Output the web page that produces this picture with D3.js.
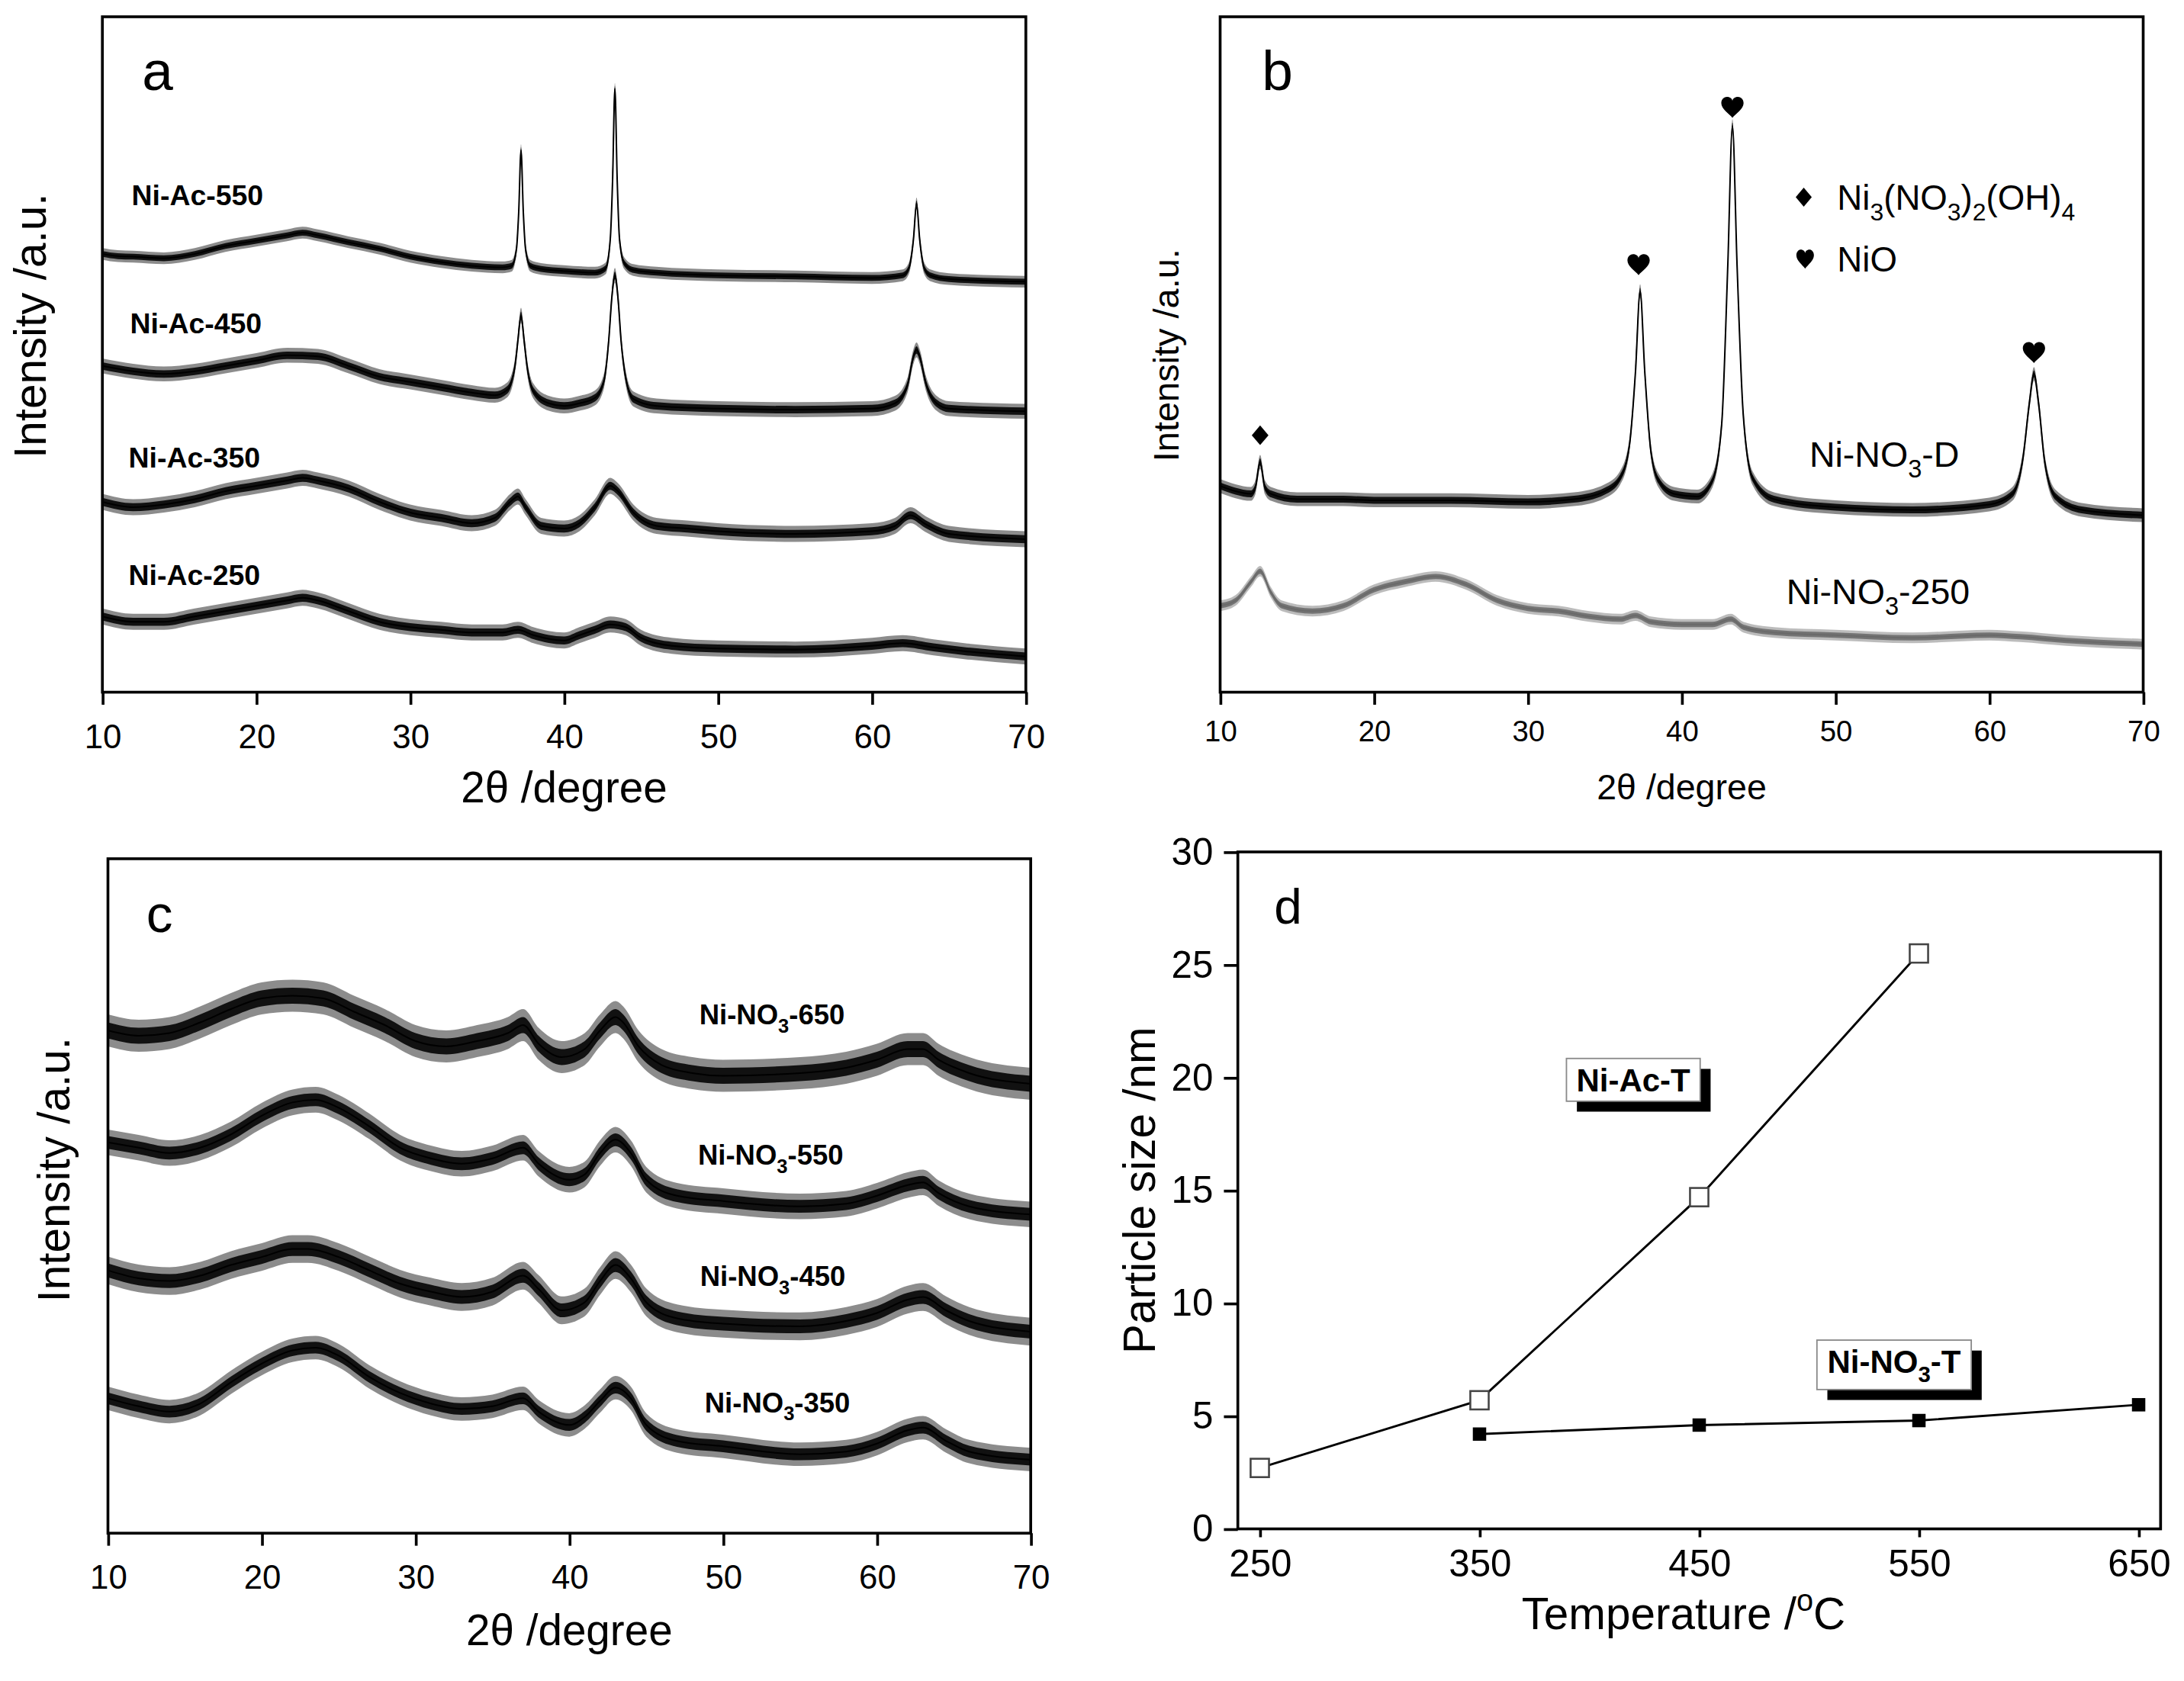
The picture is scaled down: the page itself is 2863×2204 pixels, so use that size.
<!DOCTYPE html>
<html><head><meta charset="utf-8">
<script src="https://cdn.jsdelivr.net/npm/d3@7"></script>
<style>
body{margin:0;background:#fff}
svg{display:block}
text{font-family:"Liberation Sans",Arial,Helvetica,sans-serif;fill:#000}
</style>
</head><body>
<svg id="fig" width="2863" height="2204" viewBox="0 0 1568 1207"></svg>
<script>
// ---------------- DATA ----------------
const xrdTicks = [10, 20, 30, 40, 50, 60, 70];

// Panel a: [2theta, intensity a.u.]
const niAc550 = [[10,822],[11,818],[12,817],[14,814],[16,822],[18,837],[20,847],[22,857],[23,862],[24,857],[26,844],[28,832],[30,817],[32,807],[34,800],[36,797],[36.6,800],[36.9,830],[37.05,900],[37.2,1017],[37.35,900],[37.5,830],[37.8,800],[38.5,794],[40,790],[42,787],[42.7,795],[43.0,850],[43.15,960],[43.3,1132],[43.45,960],[43.6,850],[43.9,805],[44.5,792],[46,787],[50,782],[55,780],[60,777],[62,782],[62.4,795],[62.7,850],[62.9,917],[63.1,850],[63.4,795],[63.8,782],[65,775],[70,770]];
const niAc450 = [[10,612],[12,602],[14,597],[16,602],[18,612],[20,622],[22,632],[24,630],[26,612],[28,592],[30,582],[32,572],[34,562],[35.5,557],[36.3,567],[36.8,610],[37.0,660],[37.2,707],[37.4,660],[37.6,610],[38.0,565],[39,542],[40,537],[41,542],[42,552],[42.6,585],[42.9,660],[43.1,740],[43.3,782],[43.5,740],[43.7,660],[44.0,590],[44.5,550],[46,537],[50,532],[55,530],[60,532],[61.5,542],[62.3,575],[62.7,630],[62.9,642],[63.1,630],[63.5,580],[64.2,542],[65,532],[70,527]];
const niAc350 = [[10,357],[12,347],[14,352],[16,362],[18,377],[20,387],[22,397],[23,402],[24,397],[26,382],[28,357],[30,337],[32,327],[34,317],[35.5,327],[36.5,357],[37,367],[37.5,347],[38.5,312],[40,307],[41,317],[42,347],[43,387],[43.5,377],[44.5,337],[46,312],[48,307],[50,302],[55,297],[60,302],[61.5,312],[62.5,332],[63.5,315],[65,297],[70,287]];
const niAc250 = [[10,142],[12,132],[14,132],[16,142],[18,152],[20,162],[22,172],[23,177],[24,172],[26,152],[28,132],[30,122],[32,117],[34,112],[36,112],[37,117],[38,107],[40,97],[41,107],[42,117],[43,127],[44,122],[45,102],[47,87],[50,82],[55,80],[60,87],[62,92],[64,84],[66,77],[70,67]];
const noiseA = [11, 14, 15, 15];
const labelsA = ["Ni-Ac-550", "Ni-Ac-450", "Ni-Ac-350", "Ni-Ac-250"];
const labelPosA = [[11.9,914],[11.8,673],[11.7,421],[11.7,201]];

// Panel b
const niNO3D = [[10,387],[11,377],[12,372],[12.3,385],[12.6,432],[12.9,385],[13.3,372],[15,362],[18,362],[20,360],[25,360],[30,357],[33,362],[35,377],[36,402],[36.6,462],[37.0,602],[37.3,752],[37.6,602],[38.0,452],[38.5,397],[39.5,372],[41,367],[42,397],[42.6,502],[43.0,802],[43.3,1062],[43.6,802],[44.0,522],[44.6,402],[46,362],[50,347],[55,342],[60,352],[61.5,372],[62.2,442],[62.6,542],[62.9,597],[63.2,542],[63.6,432],[64.3,367],[66,342],[70,332]];
const niNO3_250 = [[10,162],[11,172],[12,207],[12.6,227],[13.3,187],[14,162],[16,152],[18,162],[20,192],[22,207],[24,217],[26,202],[28,172],[30,157],[32,152],[34,142],[36,137],[37,144],[38,132],[40,127],[42,127],[43.2,137],[44,122],[46,112],[50,107],[55,102],[60,107],[62,104],[65,97],[70,90]];
const noiseB = [13, 10];
const labelPosB = [[48.3,423],[46.8,165]];
const diamondPeak = [[12.6, 482]];
const heartPeaks = [[37.2, 802],[43.3, 1097],[62.9, 637]];

// Panel c
const niNO3_650 = [[10,943],[12,933],[14,938],[16,958],[18,983],[20,1003],[22,1008],[24,1003],[26,978],[28,953],[30,923],[32,913],[34,923],[36,938],[37,953],[38,918],[39.5,893],[41,908],[42,943],[43,968],[43.5,958],[44.5,913],[46,878],[48,863],[50,858],[55,863],[58,873],[60,888],[62,908],[63,908],[64,888],[66,863],[70,843]];
const niNO3_550 = [[10,733],[12,723],[14,713],[16,723],[18,748],[20,783],[22,808],[23.5,813],[25,798],[27,763],[29,723],[31,703],[33,693],[35,703],[37,723],[38,693],[40,663],[41,673],[42,713],[43,738],[44,713],[45,663],[47,633],[50,623],[55,613],[58,618],[60,633],[62,653],[63,658],[64,638],[66,613],[70,598]];
const niNO3_450 = [[10,493],[12,478],[14,473],[16,483],[18,503],[20,518],[22,533],[23,533],[25,518],[27,493],[29,468],[31,453],[33,443],[35,453],[37,483],[38,458],[39.5,418],[41,433],[42,473],[43,503],[44,478],[45,433],[47,403],[50,393],[55,388],[58,398],[60,413],[62,438],[63,443],[64.5,418],[66,398],[70,378]];
const niNO3_350 = [[10,253],[12,238],[14,228],[16,243],[18,283],[20,318],[22,343],[23.5,348],[25,333],[27,293],[29,263],[31,243],[33,233],[35,238],[37,253],[38,228],[40,203],[41,218],[42,248],[43,273],[44,253],[45,203],[47,173],[50,163],[55,148],[58,153],[60,168],[62,193],[63,198],[64.5,173],[66,153],[70,138]];
const noiseC = [30, 24, 26, 22];
const labelsC = ["650", "550", "450", "350"];
const labelPosC = [[48.45,954],[48.36,691],[48.5,464],[48.8,227]];

// Panel d
const temps = [250, 350, 450, 550, 650];
const sizeTicks = [0, 5, 10, 15, 20, 25, 30];
const niAcT = [2.7, 5.7, 14.7, 25.5];     // 250..550
const niNO3T = [4.2, 4.6, 4.8, 5.5];      // 350..650
const annoPos = [[420, 19.9], [538.7, 7.27]];

// ---------------- DRAWING ----------------
const svg = d3.select('#fig');

function richText(sel, segs, fs) {
  let shift = 0;
  segs.forEach(s => {
    const ts = sel.append('tspan').text(s.t);
    let target = 0;
    if (s.sub) { target = 0.3 * fs; ts.attr('font-size', fs * 0.7); }
    if (s.sup) { target = -0.42 * fs; ts.attr('font-size', fs * 0.68); }
    if (target !== shift) { ts.attr('dy', target - shift); shift = target; }
  });
}

function xrdPanel(c) {
  const x = d3.scaleLinear().domain([10, 70]).range([c.L, c.R]);
  const y = d3.scaleLinear().domain([0, c.yMax]).range([c.B, c.T]);
  const g = svg.append('g');
  const clipId = 'clip' + c.id;
  g.append('clipPath').attr('id', clipId).append('rect')
    .attr('x', c.L).attr('y', c.T).attr('width', c.R - c.L).attr('height', c.B - c.T);
  const plot = g.append('g').attr('clip-path', `url(#${clipId})`);
  c.series.forEach(s => {
    const band = k => d3.area().curve(d3.curveMonotoneX)
      .x(d => x(d[0])).y0(d => y(d[1] - s.noise * k)).y1(d => y(d[1] + s.noise * k));
    plot.append('path').attr('d', band(1)(s.data)).attr('fill', s.color).attr('fill-opacity', 0.45);
    plot.append('path').attr('d', band(0.5)(s.data)).attr('fill', s.color).attr('fill-opacity', 0.88);
    plot.append('path').attr('d', d3.line().curve(d3.curveMonotoneX).x(d => x(d[0])).y(d => y(d[1]))(s.data))
      .attr('fill', 'none').attr('stroke', s.color).attr('stroke-width', 1.1);
    const t = g.append('text').attr('x', x(s.lx)).attr('y', y(s.ly))
      .attr('font-size', c.labelFs).attr('font-weight', c.labelBold ? 'bold' : 'normal');
    richText(t, s.label, c.labelFs);
  });
  // axis
  const ax = g.append('g').attr('transform', `translate(0,${c.B})`)
    .call(d3.axisBottom(x).tickValues(xrdTicks).tickSize(9).tickPadding(c.tickPad).tickSizeOuter(0));
  ax.select('.domain').remove();
  ax.selectAll('line').attr('stroke-width', 2);
  ax.selectAll('text').attr('font-size', c.tickFs).attr('font-family', '"Liberation Sans",Arial,sans-serif');
  g.append('rect').attr('x', c.L).attr('y', c.T).attr('width', c.R - c.L).attr('height', c.B - c.T)
    .attr('fill', 'none').attr('stroke', '#000').attr('stroke-width', 2);
  const xt = g.append('text').attr('x', (c.L + c.R) / 2).attr('y', c.xTitleY)
    .attr('text-anchor', 'middle').attr('font-size', c.titleFs);
  xt.text('2θ /degree');
  g.append('text').attr('transform', `translate(${c.yTitle[0]},${c.yTitle[1]}) rotate(-90)`)
    .attr('text-anchor', 'middle').attr('font-size', c.yTitleFs).text('Intensity /a.u.');
  g.append('text').attr('x', c.letter[0]).attr('y', c.letter[1]).attr('font-size', c.letterFs).text(c.letter[2]);
  return { x, y, g };
}

// Panel a
xrdPanel({
  id: 'a', L: 73.5, R: 736.5, T: 12, B: 497, yMax: 1267,
  tickFs: 24, tickPad: 14.4, titleFs: 31, xTitleY: 576, yTitle: [33, 234], yTitleFs: 32,
  letter: [102, 64.4, 'a'], letterFs: 40, labelFs: 20.5, labelBold: true,
  series: [niAc550, niAc450, niAc350, niAc250].map((d, i) => ({
    data: d, noise: noiseA[i], color: '#000', label: [{ t: labelsA[i] }],
    lx: labelPosA[i][0], ly: labelPosA[i][1]
  }))
});

// Panel b
const pb = xrdPanel({
  id: 'b', L: 876, R: 1538.7, T: 12, B: 497, yMax: 1267,
  tickFs: 21, tickPad: 11.5, titleFs: 25.5, xTitleY: 574, yTitle: [846, 255], yTitleFs: 25.7,
  letter: [906, 64.4, 'b'], letterFs: 40, labelFs: 25.5, labelBold: false,
  series: [
    { data: niNO3D, noise: noiseB[0], color: '#000', label: [{ t: 'Ni-NO' }, { t: '3', sub: true }, { t: '-D' }], lx: labelPosB[0][0], ly: labelPosB[0][1] },
    { data: niNO3_250, noise: noiseB[1], color: '#6a6a6a', label: [{ t: 'Ni-NO' }, { t: '3', sub: true }, { t: '-250' }], lx: labelPosB[1][0], ly: labelPosB[1][1] }
  ]
});

const heartPath = 'M0,0.5 C-0.15,0.3 -0.5,0.08 -0.5,-0.2 C-0.5,-0.4 -0.36,-0.5 -0.25,-0.5 C-0.1,-0.5 0,-0.4 0,-0.3 C0,-0.4 0.1,-0.5 0.25,-0.5 C0.36,-0.5 0.5,-0.4 0.5,-0.2 C0.5,0.08 0.15,0.3 0,0.5 Z';
const diamondPath = 'M0,-0.5 L0.5,0 L0,0.5 L-0.5,0 Z';
pb.g.selectAll('.hrt').data(heartPeaks).join('path').attr('class', 'hrt')
  .attr('d', heartPath).attr('transform', d => `translate(${pb.x(d[0])},${pb.y(d[1])}) scale(16,15)`);
pb.g.selectAll('.dmd').data(diamondPeak).join('path').attr('class', 'dmd')
  .attr('d', diamondPath).attr('transform', d => `translate(${pb.x(d[0])},${pb.y(d[1])}) scale(12,14)`);
// legend b
pb.g.append('path').attr('d', diamondPath).attr('transform', 'translate(1295,141.5) scale(11.5,13.7)');
pb.g.append('path').attr('d', heartPath).attr('transform', 'translate(1296,186) scale(12.6,13.7)');
richText(pb.g.append('text').attr('x', 1319).attr('y', 150.5).attr('font-size', 25),
  [{ t: 'Ni' }, { t: '3', sub: true }, { t: '(NO' }, { t: '3', sub: true }, { t: ')' }, { t: '2', sub: true }, { t: '(OH)' }, { t: '4', sub: true }], 25);
pb.g.append('text').attr('x', 1319).attr('y', 195).attr('font-size', 25).text('NiO');

// Panel c
xrdPanel({
  id: 'c', L: 77.5, R: 740, T: 616.6, B: 1100.9, yMax: 1265,
  tickFs: 24, tickPad: 13.8, titleFs: 31, xTitleY: 1181.5, yTitle: [50, 840], yTitleFs: 32,
  letter: [105, 669, 'c'], letterFs: 38, labelFs: 20, labelBold: true,
  series: [niNO3_650, niNO3_550, niNO3_450, niNO3_350].map((d, i) => ({
    data: d, noise: noiseC[i], color: '#000',
    label: [{ t: 'Ni-NO' }, { t: '3', sub: true }, { t: '-' + labelsC[i] }],
    lx: labelPosC[i][0], ly: labelPosC[i][1]
  }))
});

// Panel d
(function () {
  const L = 888.7, R = 1551.2, T = 611.7, B = 1097.8;
  const x = d3.scaleLinear().domain([240, 660]).range([L, R]);
  const y = d3.scaleLinear().domain([0, 30]).range([B, T]);
  const g = svg.append('g');
  const ax = g.append('g').attr('transform', `translate(0,${B})`)
    .call(d3.axisBottom(x).tickValues(temps).tickSize(6).tickPadding(9).tickSizeOuter(0));
  ax.select('.domain').remove();
  ax.selectAll('line').attr('stroke-width', 2);
  ax.selectAll('text').attr('font-size', 27).attr('font-family', '"Liberation Sans",Arial,sans-serif');
  const ay = g.append('g').attr('transform', `translate(${L},0)`)
    .call(d3.axisLeft(y).tickValues(sizeTicks).tickSize(10).tickPadding(7.7).tickSizeOuter(0));
  ay.select('.domain').remove();
  ay.selectAll('line').attr('stroke-width', 2);
  ay.selectAll('text').attr('font-size', 27).attr('font-family', '"Liberation Sans",Arial,sans-serif');
  g.append('rect').attr('x', L).attr('y', T).attr('width', R - L).attr('height', B - T)
    .attr('fill', 'none').attr('stroke', '#000').attr('stroke-width', 2);

  const acPts = niAcT.map((v, i) => [temps[i], v]);
  const noPts = niNO3T.map((v, i) => [temps[i + 1], v]);
  const line = d3.line().x(d => x(d[0])).y(d => y(d[1]));
  g.append('path').attr('d', line(acPts)).attr('fill', 'none').attr('stroke', '#000').attr('stroke-width', 1.6);
  g.append('path').attr('d', line(noPts)).attr('fill', 'none').attr('stroke', '#000').attr('stroke-width', 1.6);
  g.selectAll('.os').data(acPts).join('rect').attr('class', 'os')
    .attr('x', d => x(d[0]) - 6.6).attr('y', d => y(d[1]) - 6.6).attr('width', 13.2).attr('height', 13.2)
    .attr('fill', '#fff').attr('stroke', '#444').attr('stroke-width', 1.4);
  g.selectAll('.fs').data(noPts).join('rect').attr('class', 'fs')
    .attr('x', d => x(d[0]) - 4.8).attr('y', d => y(d[1]) - 4.8).attr('width', 9.6).attr('height', 9.6)
    .attr('fill', '#000');

  // annotation boxes
  const boxes = [
    { p: annoPos[0], w: 96, h: 30.7, segs: [{ t: 'Ni-Ac-T' }], dy: 8.5 },
    { p: annoPos[1], w: 110.8, h: 35.5, segs: [{ t: 'Ni-NO' }, { t: '3', sub: true }, { t: '-T' }], dy: 5.7 }
  ];
  boxes.forEach(b => {
    const cx = x(b.p[0]), cy = y(b.p[1]);
    g.append('rect').attr('x', cx - b.w / 2 + 7.5).attr('y', cy - b.h / 2 + 7.5).attr('width', b.w).attr('height', b.h).attr('fill', '#000');
    g.append('rect').attr('x', cx - b.w / 2).attr('y', cy - b.h / 2).attr('width', b.w).attr('height', b.h)
      .attr('fill', '#fff').attr('stroke', '#8a8a8a').attr('stroke-width', 1);
    const t = g.append('text').attr('x', cx).attr('y', cy + b.dy).attr('text-anchor', 'middle')
      .attr('font-size', 23).attr('font-weight', 'bold');
    richText(t, b.segs, 23);
  });

  const xt = g.append('text').attr('x', 1208.7).attr('y', 1170).attr('text-anchor', 'middle').attr('font-size', 32);
  richText(xt, [{ t: 'Temperature /' }, { t: 'o', sup: true }, { t: 'C' }], 32);
  g.append('text').attr('transform', 'translate(829,854.7) rotate(-90)').attr('text-anchor', 'middle')
    .attr('font-size', 32).text('Particle size /nm');
  g.append('text').attr('x', 914.7).attr('y', 663.3).attr('font-size', 36).text('d');
})();
</script>
</body></html>
